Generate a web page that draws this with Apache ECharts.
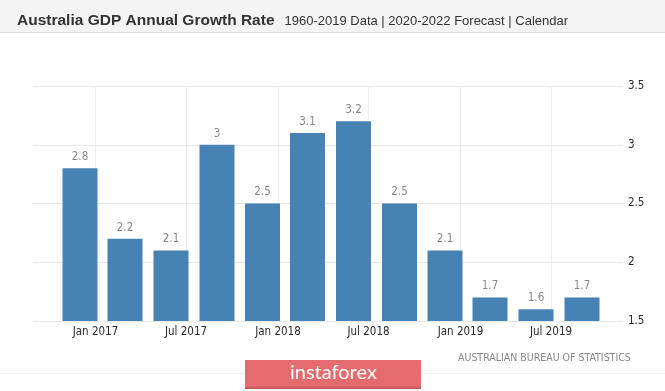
<!DOCTYPE html>
<html>
<head>
<meta charset="utf-8">
<script src="https://cdn.jsdelivr.net/npm/echarts@6/dist/echarts.min.js"></script>
<style>
html,body{margin:0;padding:0;background:#fff;}
#chart{width:665px;height:391px;}
</style>
</head>
<body>
<div id="chart"></div>
<script>
// Quarterly GDP annual growth rate (bars are placed in the last month of each quarter)
const quarterDates = ['2016-12-01','2017-03-01','2017-06-01','2017-09-01','2017-12-01','2018-03-01',
                      '2018-06-01','2018-09-01','2018-12-01','2019-03-01','2019-06-01','2019-09-01'];
const growthValues = [2.8, 2.2, 2.1, 3, 2.5, 3.1, 3.2, 2.5, 2.1, 1.7, 1.6, 1.7];
const xTickDates = ['2017-01-01','2017-07-01','2018-01-01','2018-07-01','2019-01-01','2019-07-01'];
const xTickLabels = ['Jan 2017','Jul 2017','Jan 2018','Jul 2018','Jan 2019','Jul 2019'];
const yTicks = [1.5, 2, 2.5, 3, 3.5];
const titleMain = 'Australia GDP Annual Growth Rate';
const titleSub = '1960-2019 Data | 2020-2022 Forecast | Calendar';
const sourceText = 'AUSTRALIAN BUREAU OF STATISTICS';
const brandText = 'instaforex';

function toTime(s) {
  const p = s.split('-').map(Number);
  return Date.UTC(p[0], p[1] - 1, p[2]);
}
const xTickValues = xTickDates.map(toTime);

const FONT = 'DejaVu Sans Condensed';
const chart = echarts.init(document.getElementById('chart'), null, {renderer: 'canvas'});
const option = {
  backgroundColor: '#ffffff',
  animation: false,
  graphic: [
    {type: 'rect', left: 0, top: 0, shape: {width: 665, height: 32}, style: {fill: '#f4f4f4'}, z: -1},
    {type: 'rect', left: 0, top: 32, shape: {width: 665, height: 1}, style: {fill: '#dddddd'}, z: -1},
    {type: 'rect', left: 0, top: 373, shape: {width: 665, height: 1}, style: {fill: '#f2f2f2'}, z: -1},
    {type: 'text', left: 458, top: 353, style: {text: sourceText, fill: '#888888', font: '10.5px "DejaVu Sans Condensed"'}},
    {type: 'rect', left: 245, top: 360, shape: {width: 176, height: 29}, style: {fill: '#e46b6e'}},
    {type: 'rect', left: 245, top: 387, shape: {width: 176, height: 2}, style: {fill: '#c95a5d'}},
    {type: 'text', left: 290, top: 363, style: {text: brandText, fill: '#ffffff', font: '20px Lato'}}
  ],
  title: {
    left: 12, top: 7,
    text: '{a|' + titleMain + '}  {b|' + titleSub + '}',
    textStyle: {
      rich: {
        a: {fontFamily: 'Liberation Sans', fontSize: 15.5, fontWeight: 'bold', color: '#333333'},
        b: {fontFamily: 'Liberation Sans', fontSize: 13, fontWeight: 'normal', color: '#333333'}
      }
    }
  },
  grid: {left: 33, right: 42, top: 86, bottom: 70, containLabel: false},
  xAxis: {
    type: 'value',
    min: toTime('2016-08-29'),
    max: toTime('2019-11-22'),
    axisLine: {show: false},
    axisTick: {show: false, customValues: xTickValues},
    splitLine: {show: true, lineStyle: {color: '#ececec', width: 1}},
    axisLabel: {
      customValues: xTickValues,
      margin: 5,
      color: '#2a2a2a', fontSize: 11.5, fontFamily: FONT,
      formatter: function (value) {
        let best = 0, bestDiff = Infinity;
        xTickValues.forEach((t, i) => { const df = Math.abs(t - value); if (df < bestDiff) { bestDiff = df; best = i; } });
        return xTickLabels[best];
      }
    }
  },
  yAxis: {
    type: 'value',
    position: 'right',
    min: yTicks[0], max: yTicks[yTicks.length - 1], interval: 0.5,
    axisLine: {show: false},
    axisTick: {show: false},
    splitLine: {lineStyle: {color: '#e8e8e8', width: 1}},
    axisLabel: {margin: 5, color: '#2a2a2a', fontSize: 11.5, fontFamily: FONT}
  },
  series: [{
    type: 'bar',
    data: quarterDates.map((d, i) => [toTime(d), growthValues[i]]),
    barWidth: 35,
    itemStyle: {color: '#4682b4'},
    label: {show: true, position: 'top', distance: 5, color: '#888888', fontSize: 11.5, fontFamily: FONT}
  }]
};
chart.setOption(option);
</script>
</body>
</html>
